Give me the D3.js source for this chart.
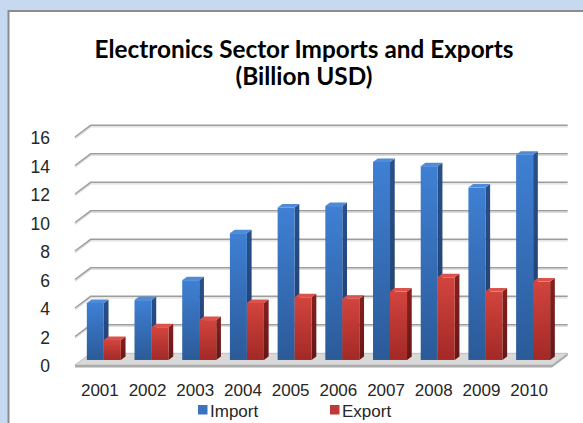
<!DOCTYPE html>
<html>
<head>
<meta charset="utf-8">
<script src="https://cdn.jsdelivr.net/npm/d3@7"></script>
<style>
  html, body { margin: 0; padding: 0; background: #c6d9f1; }
  svg { display: block; }
</style>
</head>
<body>
<svg id="chart" width="583" height="423"></svg>
<script>
// Electronics sector trade, billion USD
const years = ["2001","2002","2003","2004","2005","2006","2007","2008","2009","2010"];
const importValues = [4.0, 4.2, 5.6, 8.9, 10.7, 10.8, 13.9, 13.6, 12.1, 14.4];
const exportValues = [1.4, 2.3, 2.8, 4.0, 4.4, 4.3, 4.8, 5.8, 4.8, 5.5];
const seriesNames = ["Import", "Export"];
const yTickValues = [0, 2, 4, 6, 8, 10, 12, 14, 16];
const titleLines = ["Electronics Sector Imports and Exports", "(Billion USD)"];

const svg = d3.select("#chart");
const W = 583, H = 423;

// oblique projection used for the 3-D look
const DX = 15.7, DY = 11.7;

// front-plane scales
const y = d3.scaleLinear().domain([0, 16]).range([365, 137]);
const x = d3.scaleBand().domain(years).range([75, 552])
  .paddingInner(0.287).paddingOuter(0.1435).align(0.37);
const xLabel = d3.scaleBand().domain(years).range([75, 552]).padding(0);
const series = d3.scaleBand().domain(seriesNames).range([0, x.bandwidth()]);

const proj = (px, v, z) => [px + z * DX, y(v) - z * DY];

// frame
svg.append("rect").attr("width", W).attr("height", H).attr("fill", "#c6d9f1");
svg.append("rect")
  .attr("x", 8.5).attr("y", 11).attr("width", 620).attr("height", 430)
  .attr("fill", "#ffffff").attr("stroke", "#8c8c8c").attr("stroke-width", 2);

const defs = svg.append("defs");
function grad(id, c0, c1) {
  const g = defs.append("linearGradient").attr("id", id)
    .attr("x1", 0).attr("y1", 0).attr("x2", 0).attr("y2", 1);
  g.append("stop").attr("offset", "0%").attr("stop-color", c0);
  g.append("stop").attr("offset", "100%").attr("stop-color", c1);
}
grad("impFront", "#3f80d4", "#2b5a98");
grad("impSide", "#29508a", "#1f3d6b");
grad("expFront", "#d2443e", "#a22926");
grad("expSide", "#85201e", "#661716");

const palette = {
  Import: { front: "url(#impFront)", side: "url(#impSide)", top: "#4f8bd8", key: "#3a74c0" },
  Export: { front: "url(#expFront)", side: "url(#expSide)", top: "#d9524c", key: "#c0393a" }
};

const line = d3.line();

// floor slab
const x0 = x.range()[0], x1 = x.range()[1];
const floor = svg.append("g");
floor.append("path")
  .attr("d", line([[x0, y(0) + 2.5], [x1, y(0) + 2.5], [x1 + DX, y(0) - DY + 2.5], [x1 + DX, y(0) - DY],
                   [x1, y(0)], [x0, y(0)]]) + "Z")
  .attr("fill", "#a9a9a9");
floor.append("path")
  .attr("d", line([proj(x0, 0, 0), proj(x1, 0, 0), proj(x1, 0, 1), proj(x0, 0, 1)]) + "Z")
  .attr("fill", "#d9d9d9").attr("stroke", "#b5b5b5").attr("stroke-width", 0.8);

// gridlines: slanted side-wall segment plus back-wall line
const grid = svg.append("g");
yTickValues.filter(v => v > 0).forEach(v => {
  const pts = [proj(x0, v, 0), proj(x0, v, 1), proj(x1, v, 1)];
  grid.append("path").attr("d", line(pts.map(p => [p[0], p[1] + 1.6])))
    .attr("fill", "none").attr("stroke", "#dedede").attr("stroke-width", 1.4);
  grid.append("path").attr("d", line(pts))
    .attr("fill", "none").attr("stroke", "#9d9d9d").attr("stroke-width", 1.5);
});

// columns
const zFront = 0.43, zBack = 0.73;
const bars = svg.append("g");
years.forEach((yr, i) => {
  const vals = { Import: importValues[i], Export: exportValues[i] };
  seriesNames.forEach(s => {
    const v = vals[s];
    const l = x(yr) + series(s), r = l + series.bandwidth();
    const c = palette[s];
    const g = bars.append("g");
    // right side face
    g.append("path")
      .attr("d", line([proj(r, 0, zFront), proj(r, v, zFront), proj(r, v, zBack), proj(r, 0, zBack)]) + "Z")
      .attr("fill", c.side);
    // front face
    const fl = proj(l, v, zFront), fr = proj(r, 0, zFront);
    g.append("rect")
      .attr("x", fl[0]).attr("y", fl[1])
      .attr("width", fr[0] - fl[0]).attr("height", fr[1] - fl[1])
      .attr("fill", c.front);
    // top face
    g.append("path")
      .attr("d", line([proj(l, v, zFront), proj(r, v, zFront), proj(r, v, zBack), proj(l, v, zBack)]) + "Z")
      .attr("fill", c.top);
  });
});

const labelFont = "Liberation Sans, Arial, sans-serif";

// value axis labels
const yAxis = d3.axisLeft(y).tickValues(yTickValues).tickSize(0).tickPadding(0).tickFormat(d3.format("d"));
const gy = svg.append("g").attr("transform", "translate(50,1)").call(yAxis);
gy.select(".domain").remove();
gy.selectAll("text")
  .attr("font-family", labelFont)
  .attr("font-size", 17.5).attr("fill", "#262626");

// category axis labels
const xAxis = d3.axisBottom(xLabel).tickSize(0).tickPadding(0);
const gx = svg.append("g").attr("transform", "translate(1,396)").call(xAxis);
gx.select(".domain").remove();
gx.selectAll("text")
  .attr("font-family", labelFont)
  .attr("font-size", 17).attr("fill", "#262626").attr("dy", null).attr("y", 0);

// legend
const legendItems = [{ name: "Import", x: 198 }, { name: "Export", x: 330 }];
const legend = svg.append("g");
legendItems.forEach(d => {
  legend.append("rect").attr("x", d.x).attr("y", 405).attr("width", 9.5).attr("height", 9.5)
    .attr("fill", palette[d.name].key);
  legend.append("text").attr("x", d.x + 12).attr("y", 417)
    .attr("font-family", labelFont)
    .attr("font-size", 17).attr("fill", "#262626").text(d.name);
});

// title, sized to its box
const titleWidths = [419, 137];
const titleBaselines = [58, 85];
titleLines.forEach((t, i) => {
  const txt = svg.append("text")
    .attr("x", 304).attr("y", titleBaselines[i]).attr("text-anchor", "middle")
    .attr("font-family", "Lato, 'Open Sans', sans-serif").attr("font-weight", 700)
    .attr("font-size", 21).attr("fill", "#000").text(t);
  const w = txt.node().getComputedTextLength();
  txt.attr("font-size", 21 * titleWidths[i] / w);
});
</script>
</body>
</html>
